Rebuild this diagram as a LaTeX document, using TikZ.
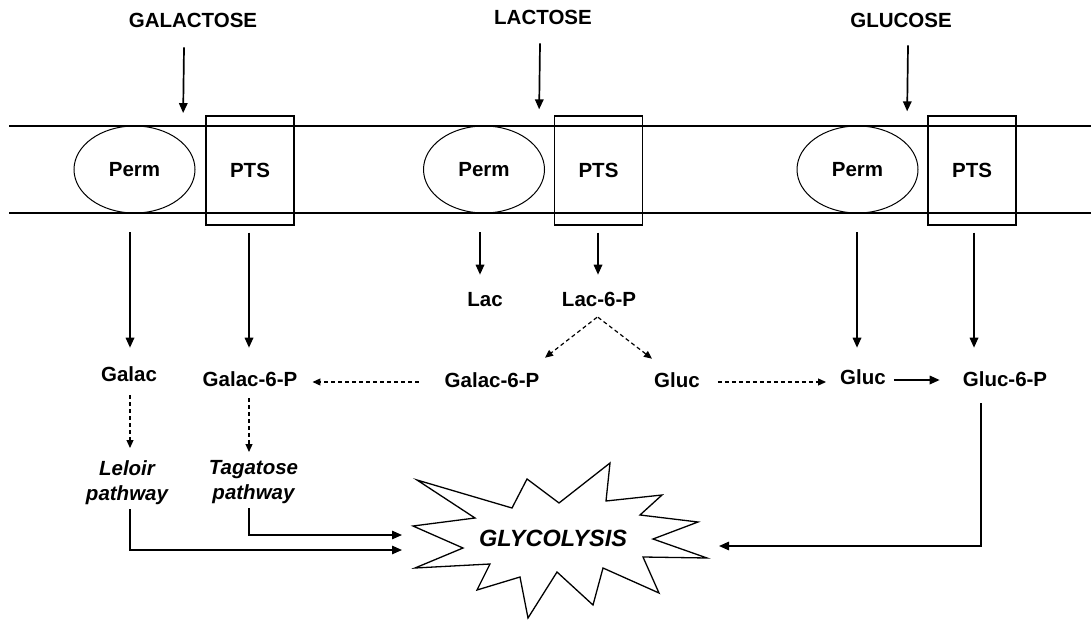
\documentclass[tikz,border=0pt]{standalone}
\usepackage{fontspec}
\setmainfont{Liberation Sans}
\usetikzlibrary{arrows.meta,shapes.geometric,calc}
\begin{document}
\begin{tikzpicture}[x=1pt,y=-1pt,
  lab/.style={font=\fontsize{20.5}{24}\selectfont\bfseries, text height=14.7pt, text depth=4pt, inner sep=0pt},
  pathway/.style={font=\fontsize{20.5}{25}\selectfont\bfseries\itshape, align=center, inner sep=0pt, anchor=north},
  permbox/.style={ellipse, draw, line width=1pt, minimum width=121pt, minimum height=87pt, inner sep=0pt, font=\fontsize{20.5}{24}\selectfont\bfseries},
  ptsbox/.style={rectangle, draw, line width=1.7pt, minimum width=88pt, minimum height=109pt, inner sep=0pt, font=\fontsize{20.5}{24}\selectfont\bfseries},
  arr/.style={line width=1.7pt, -{Triangle[length=10pt,width=8.5pt]}},
  darr/.style={line width=1.2pt, dash pattern=on 4pt off 3pt, -{Triangle[length=8pt,width=7pt]}},
  larr/.style={line width=1.4pt, -{Triangle[length=10pt,width=8.5pt]}},
  membrane/.style={line width=1.4pt},
  burst/.style={line width=1.3pt, line join=miter},
]
\useasboundingbox (0,0) rectangle (1091,620);

% membrane
\draw[membrane] (9,126) -- (1091,126);
\draw[membrane] (9,213) -- (1091,213);

% top labels
\node[lab] (galtxt) at (193,22) {GALACTOSE};
\node[lab] (lactxt) at (543,19) {LACTOSE};
\node[lab] (glutxt) at (901,22) {GLUCOSE};

% transporters
\node[permbox] (perm1) at (134.5,169.5) {Perm};
\node[ptsbox]  (pts1)  at (250,170.4) {PTS};
\node[permbox] (perm2) at (484,169.5) {Perm};
\node[ptsbox]  (pts2)  at (598.5,170.4) {PTS};
\node[permbox] (perm3) at (857.5,169.5) {Perm};
\node[ptsbox]  (pts3)  at (972,170.4) {PTS};

% intermediates
\node[lab] (galac) at (129,376) {Galac};
\node[lab] (g6p1)  at (250,381) {Galac-6-P};
\node[lab] (lac)   at (485,301) {Lac};
\node[lab] (l6p)   at (599,301) {Lac-6-P};
\node[lab] (g6p2)  at (492,382) {Galac-6-P};
\node[lab] (gluc1) at (677,382) {Gluc};
\node[lab] (gluc2) at (863,379) {Gluc};
\node[lab] (g6p3)  at (1005,381) {Gluc-6-P};

\node[pathway] (leloir) at (127,460) {Leloir\\pathway};
\node[pathway] (tagat)  at (253.5,460) {Tagatose\\pathway};

% glycolysis burst
\draw[burst] (417,480) -- (512,508) -- (527,479) -- (559,503) -- (610,463) -- (606,501)
  -- (662,495) -- (640,515) -- (698,522) -- (653,539) -- (707,558) -- (643,557)
  -- (659,593) -- (603,568) -- (593,605) -- (557,572) -- (528,618) -- (520,577)
  -- (477,590) -- (490,564) -- (415,568) -- (463,548) -- (413,526) -- (475,518) -- cycle;
\node[font=\fontsize{23.5}{27}\selectfont\bfseries\itshape, inner sep=0pt] (glyc) at (553,538) {GLYCOLYSIS};
\coordinate (gin1) at (402,535);
\coordinate (gin2) at (402,550);
\coordinate (gin3) at (719,546);

% entry arrows
\draw[arr] ($(galtxt.south)+(-9,15.75)$) -- ($(pts1.north west)+(-22,-2)$);
\draw[arr] ($(lactxt.south)+(-3,14.75)$) -- ($(pts2.north west)+(-14.5,-5.7)$);
\draw[arr] ($(glutxt.south)+(7,13.75)$) -- ($(pts3.north west)+(-20,-3.7)$);

% arrows below membrane
\draw[arr] ($(perm1.south)+(-4.5,19)$) -- ($(galac.north)+(1,-18.75)$);
\draw[arr] ($(pts1.south)+(-1,7)$) -- ($(g6p1.north)+(-1,-23.75)$);
\draw[arr] ($(perm2.south)+(-4,19)$) -- ($(lac.north)+(-5,-16.75)$);
\draw[arr] ($(pts2.south)+(-0.5,7)$) -- ($(l6p.north)+(-1,-16.75)$);
\draw[arr] ($(perm3.south)+(-0.5,19)$) -- ($(gluc2.north)+(-6,-21.75)$);
\draw[arr] ($(pts3.south)+(2,7)$) -- ($(g6p3.north)+(-31,-23.75)$);

% dashed conversions
\draw[darr] ($(galac.south)+(1,9.75)$) -- ($(leloir.north)+(3,-12)$);
\draw[darr] ($(g6p1.south)+(-1,7.75)$) -- ($(tagat.north)+(-4.5,-8)$);
\draw[darr] ($(g6p2.west)+(-26,0)$) -- ($(g6p1.east |- g6p2.west)+(15,0)$);
\draw[darr] ($(l6p.south)+(-2,6.75)$) -- ($(g6p2.north)+(53,-14.75)$);
\draw[darr] ($(l6p.south)+(-1,6.75)$) -- ($(gluc1.north)+(-25,-13.75)$);
\draw[darr] ($(gluc1.east)+(18,0)$) -- ($(gluc2.west |- gluc1.east)+(-14,0)$);
\draw[arr] ($(gluc2.east)+(8,1)$) -- ($(g6p3.west |- gluc2.east)+(-23,1)$);

% into glycolysis
\draw[larr] ($(leloir.south)+(3,4.5)$) |- (gin2);
\draw[larr] ($(tagat.south)+(-4.5,4.5)$) |- (gin1);
\draw[larr] ($(g6p3.south)+(-24,12.75)$) |- (gin3);
\end{tikzpicture}
\end{document}
